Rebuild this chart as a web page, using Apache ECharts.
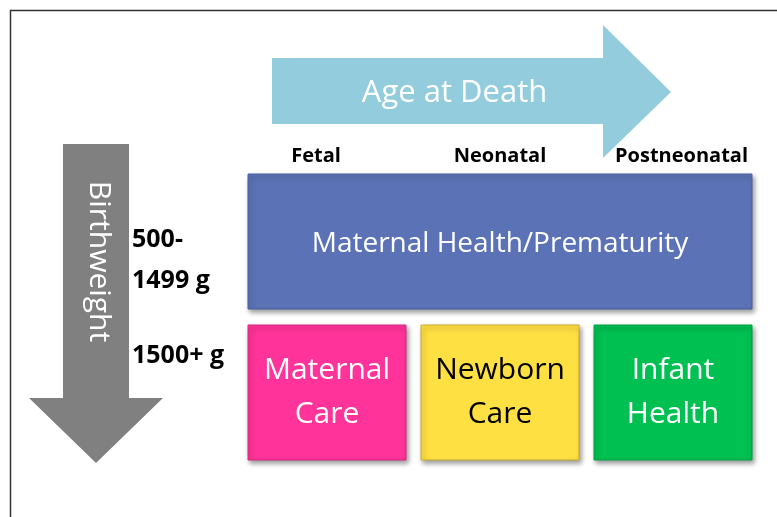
<!DOCTYPE html>
<html>
<head>
<meta charset="utf-8">
<script src="https://cdn.jsdelivr.net/npm/echarts@6/dist/echarts.min.js"></script>
<style>
html, body { margin: 0; padding: 0; background: #fff; }
#chart { width: 777px; height: 517px; }
</style>
</head>
<body>
<div id="chart"></div>
<script>
// columns = age at death, rows = birthweight
const ages = ['Fetal', 'Neonatal', 'Postneonatal'];
const weights = ['500-\n1499 g', '1500+ g'];

// blocks: label, row, first and last column covered
const blocks = ['Maternal Health/Prematurity', 'Maternal\nCare', 'Newborn\nCare', 'Infant\nHealth'];
const blockRow = [0, 1, 1, 1];
const blockFrom = [0, 0, 1, 2];
const blockTo = [2, 0, 1, 2];

// styling
const blockFill = ['#5b73b6', '#ff3399', '#ffe042', '#00c051'];
const blockEdge = ['#4a5f9c', '#d8287f', '#c9ac2c', '#00a044'];
const blockInk = ['#fff', '#fff', '#000', '#fff'];
const blockSize = [28, 30, 30, 30];
const blockTextDy = [3, 0, 0, 0];
const agePad = [[0, 22, 0, 0], 0, [0, 0, 0, 17]];
const weightShift = [19, -37];   // row labels sit off the row centre

const GAP_X = 15;
const GAP_Y = 16;

const chart = echarts.init(document.getElementById('chart'));

chart.setOption({
    animation: false,
    grid: { left: 240.5, right: 17.5, top: 166, bottom: 49, outerBoundsMode: 'none' },
    xAxis: {
        type: 'category',
        position: 'top',
        z: 5,
        data: ages.map((a, i) => ({ value: a, textStyle: { padding: agePad[i] } })),
        axisLine: { show: false },
        axisTick: { show: false },
        splitLine: { show: false },
        axisLabel: {
            interval: 0,
            margin: 0,
            color: '#000',
            fontFamily: 'Open Sans',
            fontWeight: 'bold',
            fontSize: 20
        }
    },
    yAxis: {
        type: 'category',
        inverse: true,
        data: weights,
        axisLine: { show: false },
        axisTick: { show: false },
        splitLine: { show: false },
        axisLabel: { show: false }
    },
    series: [
        {
            type: 'custom',
            encode: { x: [0, 1], y: 2 },
            data: blocks.map((b, i) => [blockFrom[i], blockTo[i], blockRow[i], i]),
            renderItem(params, api) {
                const i = api.value(3);
                const band = api.size([1, 1]);
                const p0 = api.coord([api.value(0), api.value(2)]);
                const p1 = api.coord([api.value(1), api.value(2)]);
                const x = p0[0] - band[0] / 2 + GAP_X / 2;
                const w = p1[0] + band[0] / 2 - GAP_X / 2 - x;
                const y = p0[1] - band[1] / 2 + GAP_Y / 2;
                const h = band[1] - GAP_Y;
                return {
                    type: 'rect',
                    shape: { x: x, y: y, width: w, height: h },
                    style: {
                        fill: blockFill[i],
                        stroke: blockEdge[i],
                        lineWidth: 1,
                        shadowBlur: 5,
                        shadowOffsetX: 2,
                        shadowOffsetY: 3,
                        shadowColor: 'rgba(0,0,0,0.4)'
                    },
                    textContent: {
                        style: {
                            text: blocks[i],
                            fill: blockInk[i],
                            fontFamily: 'Open Sans',
                            fontSize: blockSize[i],
                            lineHeight: 44,
                            align: 'center',
                            verticalAlign: 'middle'
                        }
                    },
                    textConfig: { position: 'inside', offset: [0, blockTextDy[i]] }
                };
            }
        },
        {
            // birthweight row labels, left of the grid
            type: 'custom',
            encode: { x: 0, y: 1 },
            data: weights.map((w, i) => [0, i]),
            renderItem(params, api) {
                const i = api.value(1);
                const band = api.size([1, 1]);
                const p = api.coord([0, i]);
                return {
                    type: 'text',
                    x: p[0] - band[0] / 2 - 108.5,
                    y: p[1] + weightShift[i],
                    style: {
                        text: weights[i],
                        fill: '#000',
                        fontFamily: 'Open Sans',
                        fontWeight: 'bold',
                        fontSize: 25,
                        lineHeight: 41,
                        align: 'left',
                        verticalAlign: 'middle'
                    }
                };
            }
        }
    ],
    graphic: [
        {
            type: 'polyline',
            shape: { points: [[10.5, 517], [10.5, 10.5], [777, 10.5]] },
            style: { stroke: '#333', lineWidth: 1.5, fill: null }
        },
        {
            type: 'polygon',
            shape: { points: [[272, 58], [603, 58], [603, 25], [671, 92], [603, 158], [603, 124], [272, 124]] },
            style: { fill: '#93cddd' }
        },
        {
            type: 'text',
            x: 454.5,
            y: 93,
            style: {
                text: 'Age at Death',
                fill: '#fff',
                fontFamily: 'Open Sans',
                fontSize: 31,
                align: 'center',
                verticalAlign: 'middle'
            }
        },
        {
            type: 'polygon',
            shape: { points: [[63, 144], [129, 144], [129, 398], [163, 398], [96, 463], [29, 398], [63, 398]] },
            style: { fill: '#808080' }
        },
        {
            type: 'text',
            x: 98.5,
            y: 261.5,
            rotation: -Math.PI / 2,
            style: {
                text: 'Birthweight',
                fill: '#fff',
                fontFamily: 'Open Sans',
                fontSize: 30,
                align: 'center',
                verticalAlign: 'middle'
            }
        }
    ]
});
</script>
</body>
</html>
